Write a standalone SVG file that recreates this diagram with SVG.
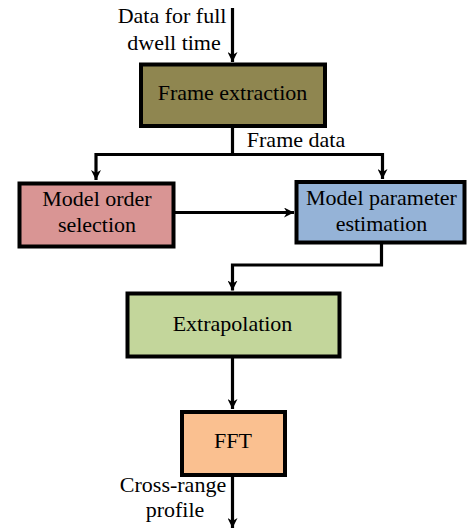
<svg xmlns="http://www.w3.org/2000/svg" width="468" height="531" viewBox="0 0 468 531" font-family="'Liberation Serif', 'Times New Roman', serif">
<style>
.box{stroke:#000;stroke-width:4}
.lbl{font-family:'Liberation Serif','Times New Roman',serif;font-size:22px;fill:#000;text-anchor:middle}
.ln{fill:none;stroke:#000;stroke-width:3.2}
</style>
<defs>
<marker id="ah" viewBox="0 0 10 10" refX="10" refY="5" markerWidth="10" markerHeight="10" markerUnits="userSpaceOnUse" orient="auto">
<path d="M0,0 L10,5 L0,10 L3,5 Z" fill="#000"/>
</marker>
</defs>
<rect width="468" height="531" fill="#fff"/>
<g id="connectors">
<line class="ln" x1="232.5" y1="8" x2="232.5" y2="62" marker-end="url(#ah)"/>
<polyline class="ln" points="232.5,128 232.5,154.5"/>
<polyline class="ln" points="96,154.5 382.5,154.5 382.5,179" marker-end="url(#ah)"/>
<line class="ln" x1="96" y1="153" x2="96" y2="180" marker-end="url(#ah)"/>
<line class="ln" x1="175" y1="212.5" x2="294" y2="212.5" marker-end="url(#ah)"/>
<polyline class="ln" points="381.5,244 381.5,265 232.5,265 232.5,290.5" marker-end="url(#ah)"/>
<line class="ln" x1="232.5" y1="358" x2="232.5" y2="409" marker-end="url(#ah)"/>
<line class="ln" x1="232.5" y1="477" x2="232.5" y2="528" marker-end="url(#ah)"/>
</g>
<g id="labels">
<text class="lbl" x="172" y="23" font-family="'Liberation Serif', serif">Data for full</text>
<text class="lbl" x="174" y="50" font-family="'Liberation Serif', serif">dwell time</text>
<text class="lbl" x="296" y="147" font-family="'Liberation Serif', serif">Frame data</text>
<text class="lbl" x="173" y="492" font-family="'Liberation Serif', serif">Cross-range</text>
<text class="lbl" x="175" y="517" font-family="'Liberation Serif', serif">profile</text>
</g>
<g id="frame-extraction">
<rect class="box" x="141" y="64.5" width="184" height="61.5" fill="#8F8650"/>
<text class="lbl" x="232.5" y="100" font-family="'Liberation Serif', serif">Frame extraction</text>
</g>
<g id="model-order-selection">
<rect class="box" x="19.5" y="183.5" width="154" height="63" fill="#D99594"/>
<text class="lbl" x="97" y="206" font-family="'Liberation Serif', serif">Model order</text>
<text class="lbl" x="97" y="232" font-family="'Liberation Serif', serif">selection</text>
</g>
<g id="model-parameter-estimation">
<rect class="box" x="296.5" y="182" width="168" height="60.5" fill="#95B3D7"/>
<text class="lbl" x="381.5" y="205" font-family="'Liberation Serif', serif">Model parameter</text>
<text class="lbl" x="381.5" y="231" font-family="'Liberation Serif', serif">estimation</text>
</g>
<g id="extrapolation">
<rect class="box" x="127.5" y="293.5" width="212" height="63" fill="#C3D69B"/>
<text class="lbl" x="232.5" y="331" font-family="'Liberation Serif', serif">Extrapolation</text>
</g>
<g id="fft">
<rect class="box" x="182" y="412" width="103" height="63" fill="#FAC090"/>
<text class="lbl" x="233" y="448" font-family="'Liberation Serif', serif">FFT</text>
</g>
</svg>
